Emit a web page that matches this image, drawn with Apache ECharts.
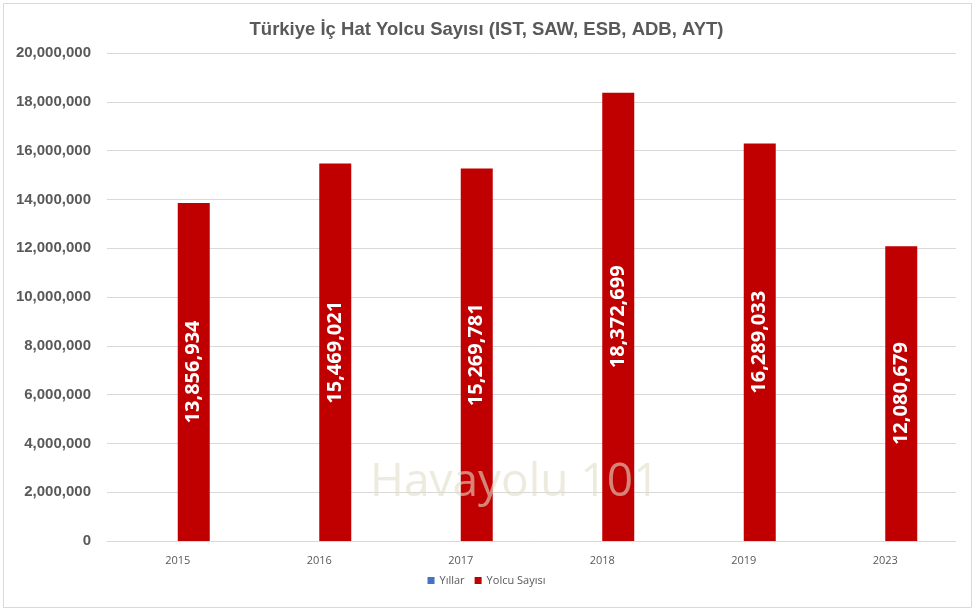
<!DOCTYPE html>
<html>
<head>
<meta charset="utf-8">
<script src="https://cdn.jsdelivr.net/npm/echarts@6/dist/echarts.min.js"></script>
<style>
  html, body { margin: 0; padding: 0; background: #fff; }
  #main { width: 973px; height: 611px; }
</style>
</head>
<body>
<div id="main"></div>
<script>
const years = ["2015", "2016", "2017", "2018", "2019", "2023"];
const yillar = [null, null, null, null, null, null];
const yolcuSayisi = [13856934, 15469021, 15269781, 18372699, 16289033, 12080679];

let myChart = echarts.init(document.getElementById("main"));

const fmt = v => v.toLocaleString("en-US");

let option = {
  backgroundColor: "#fff",
  title: {
    text: "Türkiye İç Hat Yolcu Sayısı (IST, SAW, ESB, ADB, AYT)",
    left: "center",
    top: 15,
    textStyle: { fontFamily: "Liberation Sans", fontSize: 18.5, fontWeight: "bold", color: "#595959" }
  },
  grid: { left: 107, right: 17, top: 53, bottom: 70 },
  legend: {
    bottom: 20,
    left: "center",
    itemWidth: 7,
    itemHeight: 7,
    itemGap: 10,
    icon: "rect",
    textStyle: { fontFamily: "Open Sans", fontSize: 11, color: "#595959" },
    data: ["Yıllar", "Yolcu Sayısı"]
  },
  xAxis: {
    type: "category",
    data: years,
    axisLine: { lineStyle: { color: "#d9d9d9" } },
    axisTick: { show: false },
    axisLabel: { fontFamily: "Open Sans", fontSize: 11, color: "#595959", margin: 14 }
  },
  yAxis: {
    type: "value",
    min: 0,
    max: 20000000,
    interval: 2000000,
    axisLine: { show: false },
    axisTick: { show: false },
    splitLine: { lineStyle: { color: "#d9d9d9" } },
    axisLabel: {
      fontFamily: "Liberation Sans", fontSize: 15, fontWeight: "bold", color: "#595959", margin: 16,
      formatter: v => fmt(v)
    }
  },
  series: [
    {
      name: "Yıllar",
      type: "bar",
      data: yillar,
      barWidth: 32,
      barGap: "0%",
      itemStyle: { color: "#4472C4" }
    },
    {
      name: "Yolcu Sayısı",
      type: "bar",
      data: yolcuSayisi,
      barWidth: 32,
      barGap: "0%",
      itemStyle: { color: "#C00000" },
      label: {
        show: true,
        position: "inside",
        rotate: 90,
        color: "#fff",
        fontFamily: "Open Sans",
        fontWeight: "bold",
        fontSize: 20,
        formatter: p => fmt(p.value)
      }
    }
  ],
  graphic: [
    {
      type: "rect",
      left: 1, top: 1,
      shape: { width: 968, height: 604 },
      style: { fill: "none", stroke: "#d9d9d9", lineWidth: 1 },
      z: 0
    },
    {
      type: "text",
      left: 370, top: 460,
      z: 100,
      style: { text: "Havayolu 101", fontFamily: "Open Sans", fontSize: 46, fill: "rgba(225,220,200,0.6)" }
    }
  ]
};
myChart.setOption(option);
window.addEventListener("resize", () => myChart.resize(), false);
</script>
</body>
</html>
